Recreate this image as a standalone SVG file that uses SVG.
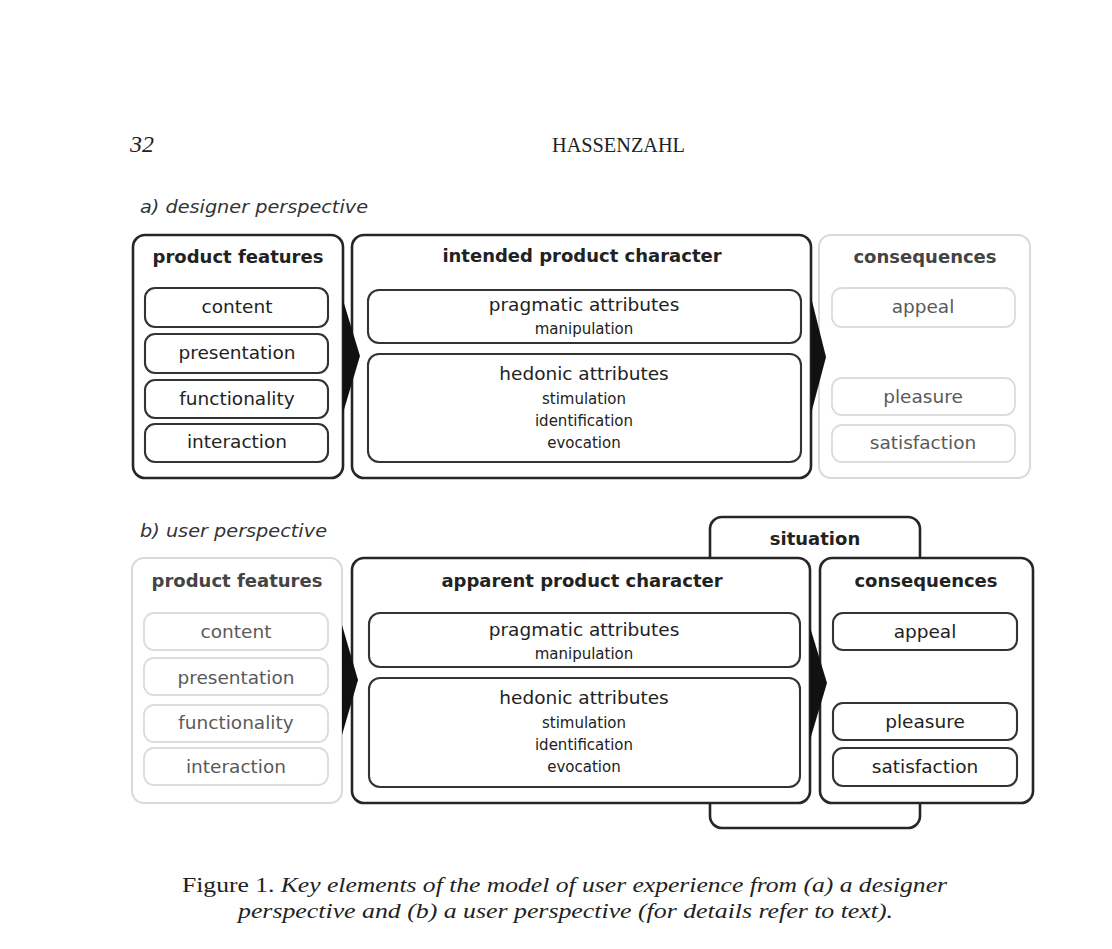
<svg xmlns="http://www.w3.org/2000/svg" width="1112" height="949" viewBox="0 0 1112 949">
<style>
.outer{fill:#fff;stroke:#262626;stroke-width:2.6}
.inner{fill:#fff;stroke:#333;stroke-width:2.1}
.louter{fill:#fff;stroke:#dadada;stroke-width:2}
.linner{fill:#fff;stroke:#dcdcdc;stroke-width:1.8}
.hd{font-family:"DejaVu Sans",sans-serif;font-weight:bold;font-size:18px;fill:#222;text-anchor:middle}
.lhd{font-family:"DejaVu Sans",sans-serif;font-weight:bold;font-size:18px;fill:#444;text-anchor:middle}
.it{font-family:"DejaVu Sans",sans-serif;font-size:18.5px;fill:#222;text-anchor:middle}
.lit{font-family:"DejaVu Sans",sans-serif;font-size:18.5px;fill:#5a5a5a;text-anchor:middle}
.sm{font-family:"DejaVu Sans",sans-serif;font-size:15px;fill:#222;text-anchor:middle}
.persp{font-family:"DejaVu Sans",sans-serif;font-style:italic;font-size:18.5px;fill:#333}
.serif{font-family:"Liberation Serif","Times New Roman",serif;fill:#222}
.arrow{fill:#111}
</style>

<!-- page header -->
<text class="serif" x="130" y="152" font-size="24" font-style="italic">32</text>
<text class="serif" x="552" y="152" font-size="20" textLength="133" lengthAdjust="spacingAndGlyphs">HASSENZAHL</text>

<text class="persp" x="140" y="213" textLength="228" lengthAdjust="spacingAndGlyphs">a) designer perspective</text>

<!-- a) designer perspective -->
<g id="a-product-features">
<rect class="outer" x="133" y="235" width="210" height="243" rx="12"/>
<text class="hd" x="238" y="263">product features</text>
<rect class="inner" x="145" y="288" width="183" height="39" rx="10"/>
<text class="it" x="237" y="313">content</text>
<rect class="inner" x="145" y="334" width="183" height="39" rx="10"/>
<text class="it" x="237" y="359">presentation</text>
<rect class="inner" x="145" y="380" width="183" height="38" rx="10"/>
<text class="it" x="237" y="405">functionality</text>
<rect class="inner" x="145" y="424" width="183" height="38" rx="10"/>
<text class="it" x="237" y="448">interaction</text>
</g>

<g id="a-intended-product-character">
<rect class="outer" x="352" y="235" width="459" height="243" rx="12"/>
<text class="hd" x="582" y="262">intended product character</text>
<rect class="inner" x="368" y="290" width="433" height="53" rx="11"/>
<text class="it" x="584" y="311">pragmatic attributes</text>
<text class="sm" x="584" y="334">manipulation</text>
<rect class="inner" x="368" y="354" width="433" height="108" rx="11"/>
<text class="it" x="584" y="380">hedonic attributes</text>
<text class="sm" x="584" y="404">stimulation</text>
<text class="sm" x="584" y="426">identification</text>
<text class="sm" x="584" y="448">evocation</text>
</g>

<g id="a-consequences">
<rect class="louter" x="819" y="235" width="211" height="243" rx="12"/>
<text class="lhd" x="925" y="263">consequences</text>
<rect class="linner" x="832" y="288" width="183" height="39" rx="10"/>
<text class="lit" x="923" y="313">appeal</text>
<rect class="linner" x="832" y="378" width="183" height="37" rx="10"/>
<text class="lit" x="923" y="403">pleasure</text>
<rect class="linner" x="832" y="425" width="183" height="37" rx="10"/>
<text class="lit" x="923" y="449">satisfaction</text>
</g>

<text class="persp" x="140" y="537" textLength="187" lengthAdjust="spacingAndGlyphs">b) user perspective</text>

<!-- b) user perspective -->
<g id="b-situation">
<rect class="outer" x="710" y="517" width="210" height="311" rx="12"/>
<text class="hd" x="815" y="545">situation</text>
</g>

<g id="b-product-features">
<rect class="louter" x="132" y="558" width="210" height="245" rx="12"/>
<text class="lhd" x="237" y="587">product features</text>
<rect class="linner" x="144" y="613" width="184" height="37" rx="10"/>
<text class="lit" x="236" y="638">content</text>
<rect class="linner" x="144" y="658" width="184" height="37" rx="10"/>
<text class="lit" x="236" y="684">presentation</text>
<rect class="linner" x="144" y="705" width="184" height="37" rx="10"/>
<text class="lit" x="236" y="729">functionality</text>
<rect class="linner" x="144" y="748" width="184" height="37" rx="10"/>
<text class="lit" x="236" y="773">interaction</text>
</g>

<g id="b-apparent-product-character">
<rect class="outer" x="352" y="558" width="458" height="245" rx="12"/>
<text class="hd" x="582" y="587">apparent product character</text>
<rect class="inner" x="369" y="613" width="431" height="54" rx="11"/>
<text class="it" x="584" y="636">pragmatic attributes</text>
<text class="sm" x="584" y="659">manipulation</text>
<rect class="inner" x="369" y="678" width="431" height="109" rx="11"/>
<text class="it" x="584" y="704">hedonic attributes</text>
<text class="sm" x="584" y="728">stimulation</text>
<text class="sm" x="584" y="750">identification</text>
<text class="sm" x="584" y="772">evocation</text>
</g>

<g id="b-consequences">
<rect class="outer" x="820" y="558" width="213" height="245" rx="12"/>
<text class="hd" x="926" y="587">consequences</text>
<rect class="inner" x="833" y="613" width="184" height="37" rx="10"/>
<text class="it" x="925" y="638">appeal</text>
<rect class="inner" x="833" y="703" width="184" height="37" rx="10"/>
<text class="it" x="925" y="728">pleasure</text>
<rect class="inner" x="833" y="748" width="184" height="38" rx="10"/>
<text class="it" x="925" y="773">satisfaction</text>
</g>

<!-- connectors -->
<g id="connectors">
<polygon class="arrow" points="343,300 360,356 343,413"/>
<polygon class="arrow" points="811,297 826,357 811,414"/>
<polygon class="arrow" points="342,625 358,680 342,735"/>
<polygon class="arrow" points="810,627 827,683 810,740"/>
</g>

<!-- caption -->
<text class="serif" x="182" y="892" font-size="22" textLength="765" lengthAdjust="spacingAndGlyphs">Figure 1. <tspan font-style="italic">Key elements of the model of user experience from (a) a designer</tspan></text>
<text class="serif" x="238" y="918" font-size="22" font-style="italic" textLength="655" lengthAdjust="spacingAndGlyphs">perspective and (b) a user perspective (for details refer to text).</text>
</svg>
